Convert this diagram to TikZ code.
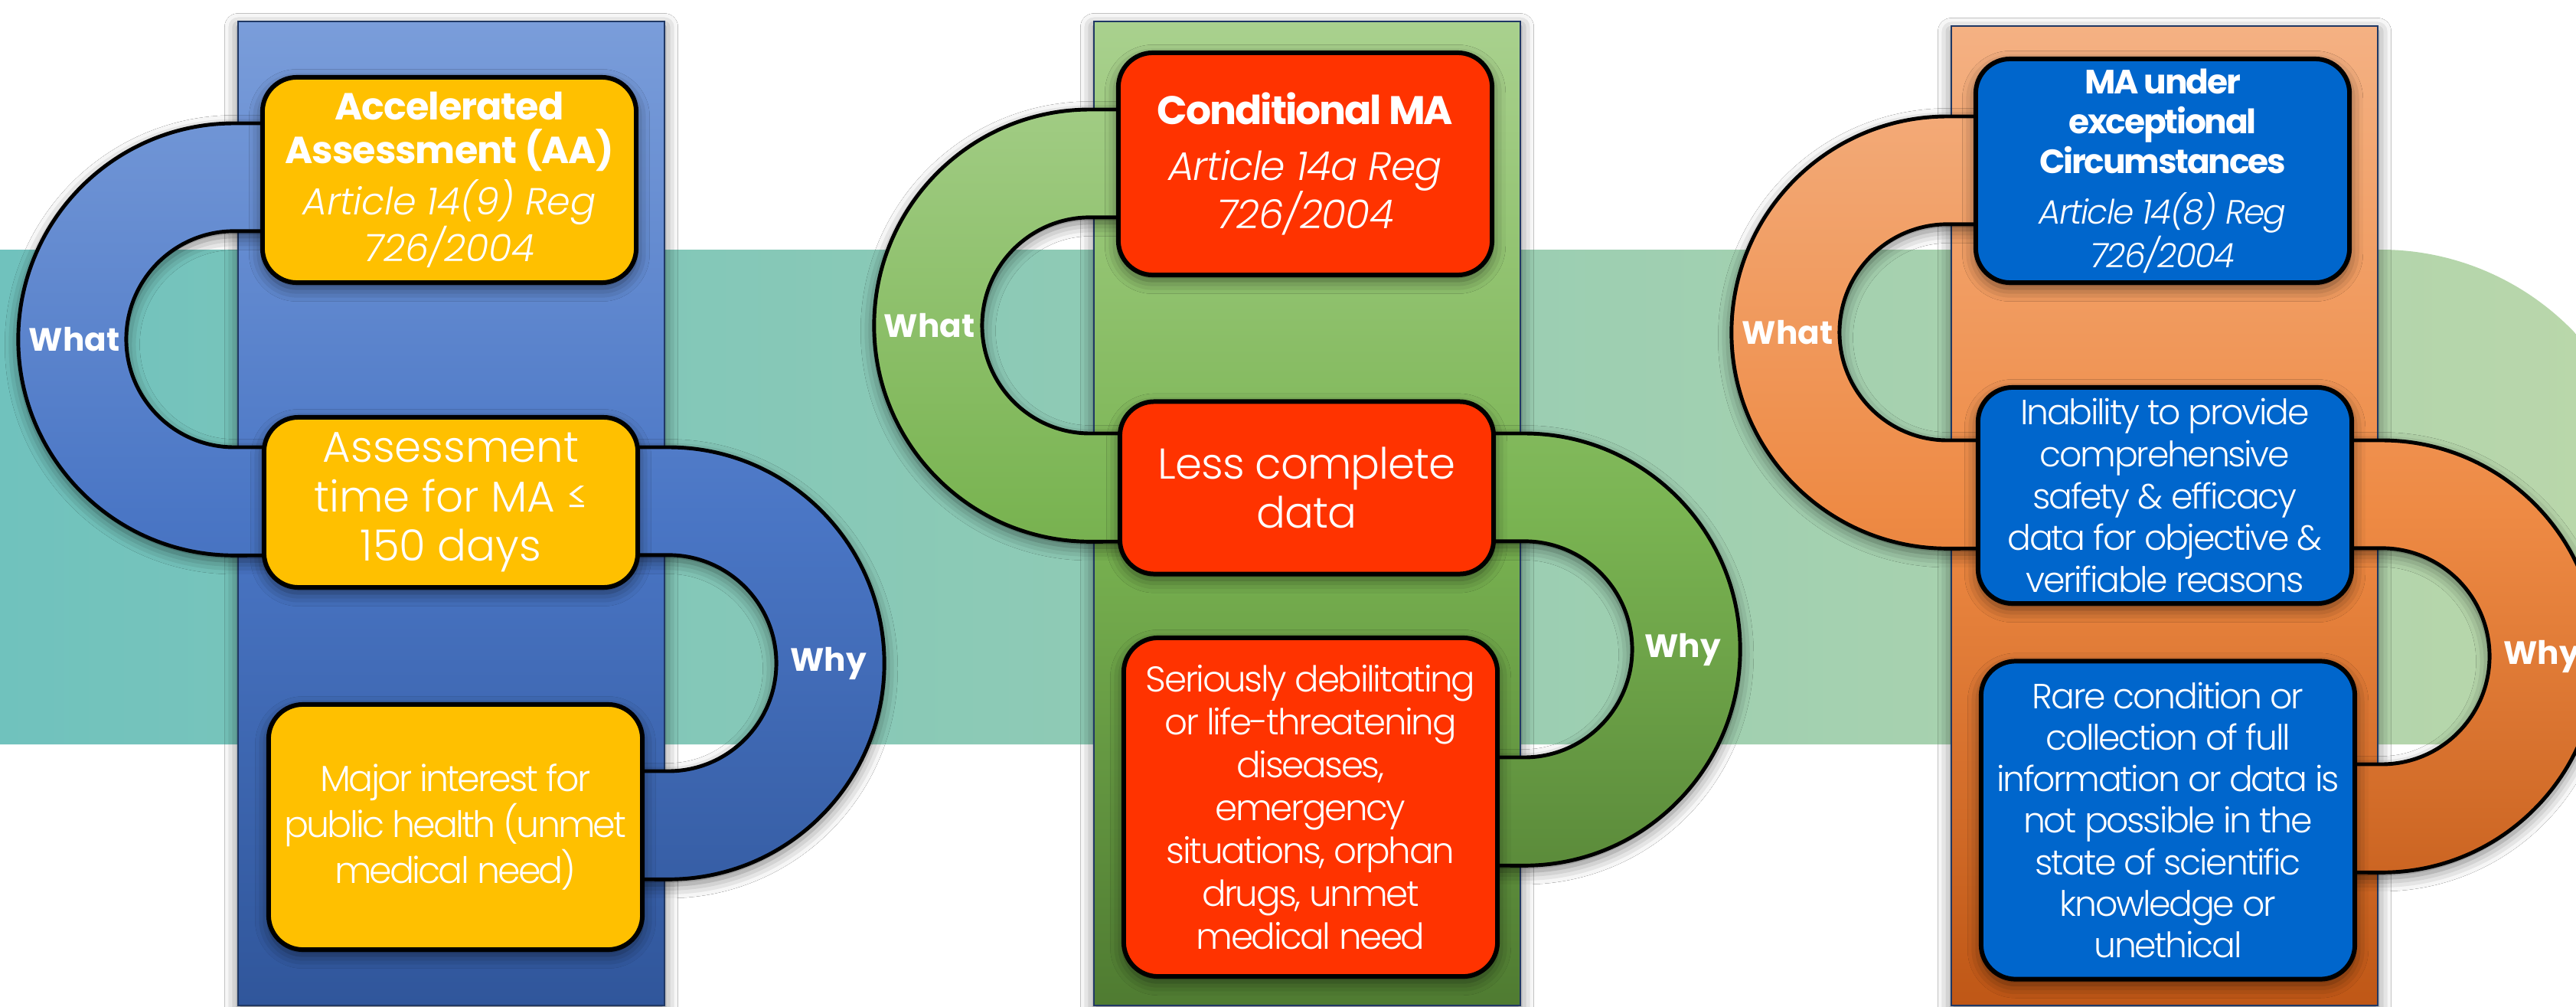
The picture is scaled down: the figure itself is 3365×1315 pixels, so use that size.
\documentclass[tikz,border=0pt]{standalone}
\usepackage{fontspec}
\setmainfont{Poppins}
\newfontfamily\poplight{Poppins Light}[ItalicFont={Poppins Light Italic}]
\usetikzlibrary{shadows.blur}

\definecolor{bandL}{HTML}{70C2BD}
\definecolor{bandR}{HTML}{BAD7AA}
\definecolor{panelline}{HTML}{203864}
\definecolor{blueT}{HTML}{7A9DDA}
\definecolor{blueM}{HTML}{4A76C5}
\definecolor{blueB}{HTML}{30569B}
\definecolor{greenT}{HTML}{A9D18E}
\definecolor{greenM}{HTML}{7AB452}
\definecolor{greenB}{HTML}{4F7B31}
\definecolor{orangeT}{HTML}{F4B183}
\definecolor{orangeM}{HTML}{EE8A44}
\definecolor{orangeB}{HTML}{BF5716}
\definecolor{amber}{HTML}{FFC000}
\definecolor{signal}{HTML}{FF3300}
\definecolor{royal}{HTML}{0066CC}

\newcommand{\cardhead}[2][0]{{\bfseries\addfontfeatures{LetterSpace=#1}#2}}
\newcommand{\cardref}[2][0]{{\poplight\itshape\addfontfeatures{LetterSpace=#1}#2}}

% C-shaped bands, centre of the half ring at #1,#2
\newcommand{\whatband}[2]{(#1+120,#2-282) -- (#1,#2-282) arc[start angle=90,end angle=270,radius=2.82cm] -- (#1+120,#2+282) -- (#1+120,#2+141) -- (#1,#2+141) arc[start angle=270,end angle=90,radius=1.41cm] -- (#1+120,#2-141) -- cycle}
\newcommand{\whyband}[2]{(#1-120,#2-282) -- (#1,#2-282) arc[start angle=90,end angle=-90,radius=2.82cm] -- (#1-120,#2+282) -- (#1-120,#2+141) -- (#1,#2+141) arc[start angle=-90,end angle=90,radius=1.41cm] -- (#1-120,#2-141) -- cycle}
\newcommand{\ringshape}[2]{%
  \path[softshadow] #1;
  \begin{scope}\clip #1; \shade[#2] (-500,28) rectangle (4000,1313);\end{scope}
  \draw[ring] #1;}

\tikzset{
  softshadow/.style={blur shadow={shadow xshift=0pt, shadow yshift=-2pt, shadow blur radius=5pt, shadow opacity=55}},
  bluefill/.style={top color=blueT, bottom color=blueB, middle color=blueM},
  greenfill/.style={top color=greenT, bottom color=greenB, middle color=greenM},
  orangefill/.style={top color=orangeT, bottom color=orangeB, middle color=orangeM},
  panel/.style={draw=panelline, line width=0.8pt, softshadow},
  ring/.style={draw=black, line width=1.4pt},
  card/.style={draw=black, line width=1.7pt, rounded corners=0.45cm, minimum width=4.88cm,
               inner sep=0pt, align=center, text=white, softshadow},
  tag/.style={text=white, font=\bfseries\fontsize{12pt}{14pt}\selectfont},
}

\begin{document}
\begin{tikzpicture}[x=0.01cm, y=-0.01cm]
\useasboundingbox (0,0) rectangle (3365,1315);
\clip (0,0) rectangle (3365,1315);
\fill[white] (0,0) rectangle (3365,1315);
\shade[left color=bandL, right color=bandR] (0,326) -- (3110,326) arc[start angle=90,end angle=35,radius=3.5cm] -- (3420,972) -- (0,972) -- cycle;

% accelerated assessment
\shadedraw[panel, bluefill] (311,28) rectangle (868,1313);
\ringshape{\whatband{306}{443}}{bluefill}
\ringshape{\whyband{873}{866}}{bluefill}
\node[tag] (what1) at (97,443) {What};
\node[tag] (why1) at (1082,866) {Why};

\node[card, fill=amber, minimum height=2.68cm, font=\fontsize{14pt}{16.2pt}\selectfont] (aa) at (587,235)
  {\cardhead[-2]{Accelerated}\\\cardhead[-2]{Assessment (AA)}\\[3pt]\cardref[-1]{Article 14(9) Reg}\\[-0.6pt]\cardref[-1]{726/2004}};
\node[card, fill=amber, minimum height=2.22cm, font=\poplight\fontsize{16pt}{18.4pt}\selectfont] (aatime) at (589,656)
  {Assessment\\time for MA ≤\\150 days};
\node[card, fill=amber, minimum height=3.2cm, font=\poplight\fontsize{13.5pt}{16pt}\selectfont\addfontfeatures{LetterSpace=-6}] (aawhy) at (595,1080)
  {Major interest for\\public health (unmet\\medical need)};

% conditional marketing authorisation
\shadedraw[panel, greenfill] (1429,28) rectangle (1986,1313);
\ringshape{\whatband{1424}{425}}{greenfill}
\ringshape{\whyband{1991}{848}}{greenfill}
\node[tag] (what2) at (1214,425) {What};
\node[tag] (why2) at (2198,848) {Why};

\node[card, fill=signal, minimum height=2.9cm, font=\fontsize{14.8pt}{17.9pt}\selectfont] (cma) at (1705,214)
  {\cardhead[-4]{Conditional MA}\\[3pt]\cardref[-2]{Article 14a Reg}\\\cardref[-2]{726/2004}};
\node[card, fill=signal, minimum height=2.25cm, font=\poplight\fontsize{16pt}{18pt}\selectfont\addfontfeatures{LetterSpace=-2}] (cmadata) at (1707,637)
  {Less complete\\data};
\node[card, fill=signal, minimum height=4.42cm, font=\poplight\fontsize{13.3pt}{15.9pt}\selectfont\addfontfeatures{LetterSpace=-5}] (cmawhy) at (1712,1054)
  {Seriously debilitating\\or life-threatening\\diseases,\\emergency\\situations, orphan\\drugs, unmet\\medical need};

% exceptional circumstances
\shadedraw[panel, orangefill] (2549,34) rectangle (3106,1313);
\ringshape{\whatband{2544}{434}}{orangefill}
\ringshape{\whyband{3111}{857}}{orangefill}
\node[tag] (what3) at (2335,434) {What};
\node[tag] (why3) at (3320,857) {Why};

\node[card, fill=royal, minimum height=2.92cm, font=\fontsize{12.5pt}{14.8pt}\selectfont] (exc) at (2825,223)
  {\cardhead[-5]{MA under}\\\cardhead[-5]{exceptional}\\\cardhead[-5]{Circumstances}\\[4pt]\cardref[-4]{Article 14(8) Reg}\\\cardref[-4]{726/2004}};
\node[card, fill=royal, minimum height=2.82cm, font=\poplight\fontsize{13pt}{15.5pt}\selectfont\addfontfeatures{LetterSpace=-5}] (excdata) at (2828,647)
  {Inability to provide\\comprehensive\\safety \& efficacy\\data for objective \&\\verifiable reasons};
\node[card, fill=royal, minimum height=4.15cm, font=\poplight\fontsize{13pt}{15.4pt}\selectfont\addfontfeatures{LetterSpace=-5}] (excwhy) at (2832,1071)
  {Rare condition or\\collection of full\\information or data is\\not possible in the\\state of scientific\\knowledge or\\unethical};

\end{tikzpicture}
\end{document}
